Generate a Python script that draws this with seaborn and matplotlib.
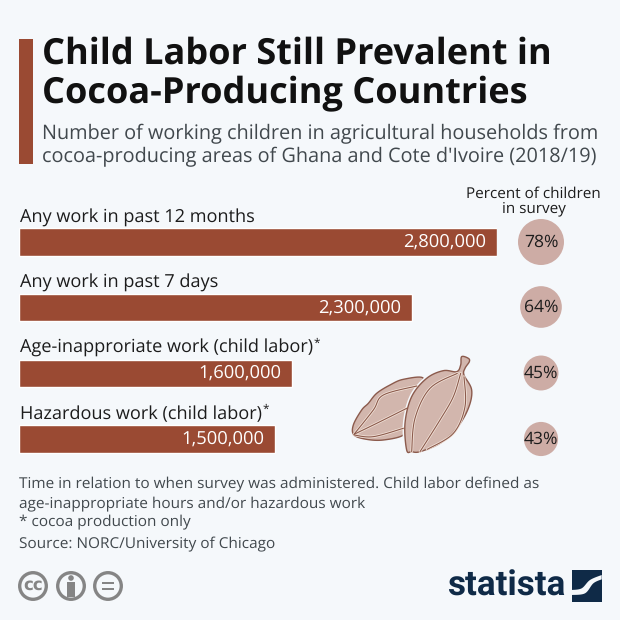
import matplotlib
matplotlib.use("Agg")
import matplotlib.pyplot as plt
from matplotlib.patches import Polygon, Rectangle, Circle
import numpy as np
import pandas as pd
import seaborn as sns

categories = ["Any work in past 12 months", "Any work in past 7 days",
              "Age-inapproriate work (child labor)*", "Hazardous work (child labor)*"]
children = [2800000, 2300000, 1600000, 1500000]
percent = [78, 64, 45, 43]

title_lines = ["Child Labor Still Prevalent in", "Cocoa-Producing Countries"]
subtitle_lines = ["Number of working children in agricultural households from",
                  "cocoa-producing areas of Ghana and Cote d'Ivoire (2018/19)"]
pct_header = ["Percent of children", "in survey"]
footer_lines = ["Time in relation to when survey was administered. Child labor defined as",
                "age-inappropriate hours and/or hazardous work",
                "* cocoa production only",
                "Source: NORC/University of Chicago"]

BG = "#f5f8fb"
BROWN = "#9a4a33"
PINK = "#cdaca5"
INK = "#1c1c1c"
GREY = "#41484d"
NAVY = "#0f2a47"
POD = "#d2b6ad"
POD_EDGE = "#8b5a4c"

sns.set_theme(style="white")
plt.rcParams["font.family"] = ["Open Sans", "DejaVu Sans"]
plt.rcParams["text.hinting"] = "none"

fig = plt.figure(figsize=(6.2, 6.2), dpi=100, facecolor=BG)

# overlay in pixel coordinates
ov = fig.add_axes([0, 0, 1, 1], zorder=1)
ov.set_xlim(0, 620); ov.set_ylim(620, 0); ov.axis("off")

# bars
top, bottom = 209, 472
ax = fig.add_axes([19/620, 1-bottom/620, 478/620, (bottom-top)/620], zorder=2)
ax.patch.set_alpha(0)
df = pd.DataFrame({"category": categories, "children": children})
sns.barplot(data=df, y="category", x="children", color=BROWN, saturation=1,
            width=0.42, ax=ax, orient="h")
ax.set_xlim(0, max(children)); ax.set_ylim(3.5, -0.5)
ax.axis("off")
for lab in ax.bar_label(ax.containers[0], labels=[f"{v:,}" for v in children],
                        padding=-7.5, color="white", fontsize=13.2):
    lab.set_ha("right")

# text
ov.add_patch(Rectangle((19, 39), 14, 125, color=BROWN, lw=0))
for y, s in zip([54, 94], title_lines):
    ov.text(42, y, s, fontsize=26.0, fontweight="bold", color="#111111", va="center")
for y, s in zip([134, 157], subtitle_lines):
    ov.text(42, y, s, fontsize=14.35, color=GREY, va="center")
for y, s in zip([218, 283, 348, 414], categories):
    starred = s.endswith("*")
    t = ov.text(20, y, s.rstrip("*"), fontsize=13.1, color=INK, va="center")
    if starred:
        ov.annotate("*", xy=(1, 1), xycoords=t, xytext=(0.5, 1), textcoords="offset points",
                    fontsize=8.5, color=INK, ha="left", va="top")
for y, s in zip([194, 209], pct_header):
    ov.text(533.5, y, s, fontsize=10.95, color=INK, ha="center", va="center")
for y, s in zip([484, 504, 522, 544], footer_lines):
    ov.text(19, y, s, fontsize=11.05, color=GREY, va="center")

# bubbles
yc = [242, 307, 373, 439]
d = 46*np.sqrt(np.array(percent)/78)
ov.scatter([541]*4, yc, s=(d*0.72)**2, color=PINK, lw=0, zorder=3)
for y, p in zip(yc, percent):
    ov.text(541, y, f"{p}%", fontsize=12.6, color=INK, ha="center", va="center", zorder=4)

# cocoa pods (traced in crop coordinates, smoothed for drawing)
def z(pts):
    return np.array([(340+x/3, 340+y/3) for x, y in pts], float)
def smooth(p, closed=False, n=10):
    p = np.asarray(p)
    q = np.vstack([p[-1], p, p[:2]]) if closed else np.vstack([p[0], p, p[-1]])
    t = np.linspace(0, 1, n, endpoint=False)[:, None]
    out = []
    for i in range(1, len(q)-2):
        a, b, c, e = q[i-1], q[i], q[i+1], q[i+2]
        out.append(0.5*(2*b + (c-a)*t + (2*a-5*b+4*c-e)*t**2 + (3*b-a-3*c+e)*t**3))
    out = np.vstack(out)
    return out if closed else np.vstack([out, p[-1]])
left_pod = [(42,285),(40,255),(65,210),(85,190),(110,160),(150,135),(190,118),(250,115),
            (220,170),(195,250),(190,285),(130,300),(80,298)]
right_pod = [(200,330),(195,250),(215,170),(260,115),(310,92),(350,95),(362,75),(365,50),
             (385,55),(388,65),(375,85),(372,105),(395,150),(385,205),(350,265),(300,310),
             (240,335),(215,335)]
rp = smooth(z(right_pod), closed=True)
ov.add_patch(Polygon(smooth(z(left_pod), closed=True), fc=POD, ec=POD_EDGE, lw=1, zorder=3))
ov.add_patch(Polygon(rp, fc=POD, ec=POD_EDGE, lw=1, zorder=3.2))
ov.plot(*np.vstack([rp, rp[:1]]).T, color=BG, lw=3.2, zorder=3.1)
for pts, zo in [([(42,283),(100,210),(130,165),(230,138)], 3.1),
                ([(42,283),(110,250),(200,205)], 3.1),
                ([(42,285),(100,290),(190,265)], 3.1),
                ([(215,335),(225,235),(270,145),(352,100)], 3.3),
                ([(240,335),(300,240),(340,170),(362,100)], 3.3),
                ([(262,328),(340,280),(375,200),(372,110)], 3.3)]:
    c = smooth(z(pts))
    ov.plot(*c.T, color="#f3e4da", lw=1.9, zorder=zo)
    ov.plot(*c.T, color=POD_EDGE, lw=0.8, zorder=zo+0.01)

# licence icons
ICON = "#858585"
for cx, s in zip([33, 71, 108], ["cc", "", ""]):
    ov.add_patch(Circle((cx, 586), 13.3, fc="none", ec=ICON, lw=2.4))
    if s:
        ov.text(cx, 585, s, fontsize=12, fontweight="bold", color=ICON, ha="center", va="center",
                family=["DejaVu Sans"])
ov.add_patch(Circle((71, 578), 2.8, color=ICON, lw=0))
ov.add_patch(Rectangle((67, 582), 8, 15, color=ICON, lw=0))
ov.add_patch(Rectangle((102, 581.5), 12, 2.6, color=ICON, lw=0))
ov.add_patch(Rectangle((102, 587.5), 12, 2.6, color=ICON, lw=0))

# statista logo
ov.text(447, 586.5, "statista", fontsize=25.2, fontweight="bold", color=NAVY, va="center",
        family=["Roboto", "DejaVu Sans"])
ov.add_patch(Rectangle((571.7, 570), 30, 31.7, color=NAVY, lw=0))
def L(pts):
    return np.array([(440+x/3, 560+y/3) for x, y in pts], float)
upper = smooth(L([(395,90),(425,85),(450,60),(485,45)]))
lower = smooth(L([(485,58),(460,70),(435,100),(395,105)]))
ov.add_patch(Polygon(np.vstack([upper, lower]), color=BG, lw=0, zorder=2))

fig.savefig("out.png", dpi=100, facecolor=BG)
